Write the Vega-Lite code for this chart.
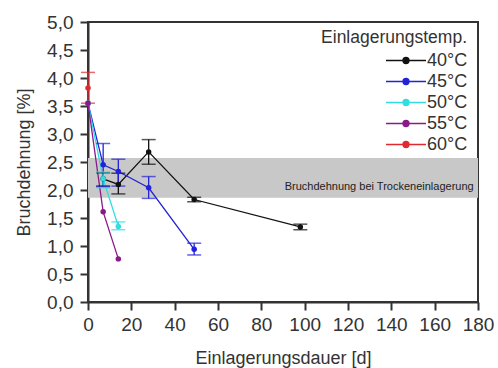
{
  "$schema": "https://vega.github.io/schema/vega-lite/v6.json",
  "width": 390,
  "height": 280,
  "autosize": {"type": "none"},
  "padding": {"left": 88, "top": 22, "right": 20, "bottom": 66},
  "background": "white",
  "config": {
    "font": "Liberation Sans",
    "view": {"stroke": "#333", "strokeWidth": 2},
    "axis": {
      "grid": false,
      "domainColor": "#333",
      "domainWidth": 2,
      "tickColor": "#333",
      "tickWidth": 2,
      "tickSize": 8,
      "labelFontSize": 19,
      "labelColor": "#333",
      "labelOverlap": false,
      "labelFlush": false,
      "titleFontSize": 18,
      "titleFontWeight": "normal",
      "titleColor": "#333"
    }
  },
  "datasets": {
    "band": [{"x1": 0, "x2": 180, "lo": 1.86, "hi": 2.57}],
    "note": [{"d": 178, "v": 2.05, "label": "Bruchdehnung bei Trockeneinlagerung"}],
    "pts": [
      {"series": "40°C", "d": 7, "v": 2.2, "lo": 2.07, "hi": 2.31},
      {"series": "40°C", "d": 14, "v": 2.1, "lo": 1.93, "hi": 2.3},
      {"series": "40°C", "d": 28, "v": 2.68, "lo": 2.46, "hi": 2.9},
      {"series": "40°C", "d": 49, "v": 1.83, "lo": 1.79, "hi": 1.87},
      {"series": "40°C", "d": 98, "v": 1.34, "lo": 1.29, "hi": 1.39},
      {"series": "45°C", "d": 0, "v": 3.55, "lo": null, "hi": null},
      {"series": "45°C", "d": 7, "v": 2.45, "lo": 2.06, "hi": 2.83},
      {"series": "45°C", "d": 14, "v": 2.33, "lo": 2.07, "hi": 2.55},
      {"series": "45°C", "d": 28, "v": 2.04, "lo": 1.85, "hi": 2.24},
      {"series": "45°C", "d": 49, "v": 0.94, "lo": 0.84, "hi": 1.05},
      {"series": "50°C", "d": 0, "v": 3.55, "lo": null, "hi": null},
      {"series": "50°C", "d": 7, "v": 2.2, "lo": 2.04, "hi": 2.32},
      {"series": "50°C", "d": 14, "v": 1.35, "lo": 1.29, "hi": 1.43},
      {"series": "55°C", "d": 0, "v": 3.55, "lo": null, "hi": null},
      {"series": "55°C", "d": 7, "v": 1.61, "lo": null, "hi": null},
      {"series": "55°C", "d": 14, "v": 0.77, "lo": null, "hi": null},
      {"series": "60°C", "d": 0, "v": 3.82, "lo": 3.55, "hi": 4.1}
    ]
  },
  "layer": [
    {
      "data": {"name": "band"},
      "mark": {"type": "rect", "color": "#c8c8c8"},
      "encoding": {
        "x": {"field": "x1", "type": "quantitative", "scale": {"domain": [0, 180], "nice": false},
          "axis": {"values": [0, 20, 40, 60, 80, 100, 120, 140, 160, 180], "tickCount": 10, "title": "Einlagerungsdauer [d]", "labelPadding": 5, "titlePadding": 15}},
        "x2": {"field": "x2"},
        "y": {"field": "lo", "type": "quantitative", "scale": {"domain": [0, 5], "nice": false},
          "axis": {"values": [0, 0.5, 1, 1.5, 2, 2.5, 3, 3.5, 4, 4.5, 5], "tickCount": 11, "labelExpr": "replace(format(datum.value, '.1f'), '.', ',')", "title": "Bruchdehnung [%]", "labelPadding": 7, "titlePadding": 13}},
        "y2": {"field": "hi"}
      }
    },
    {
      "data": {"name": "note"},
      "mark": {"type": "text", "align": "right", "baseline": "middle", "fontSize": 11, "color": "#222"},
      "encoding": {
        "x": {"field": "d", "type": "quantitative"},
        "y": {"field": "v", "type": "quantitative"},
        "text": {"field": "label"}
      }
    },
    {
      "data": {"name": "pts"},
      "encoding": {
        "x": {"field": "d", "type": "quantitative"},
        "color": {"field": "series", "type": "nominal",
          "scale": {"domain": ["40°C", "45°C", "50°C", "55°C", "60°C"], "range": ["#111111", "#2222d8", "#30dde0", "#8a1a8a", "#e02a30"]},
          "legend": {
            "title": "Einlagerungstemp.",
            "orient": "none",
            "legendX": 233,
            "legendY": 7,
            "titleAnchor": "end",
            "titleAlign": "right",
            "titleFontSize": 17.5,
            "titleFontWeight": "normal",
            "titleColor": "#333",
            "titleLimit": 300,
            "labelFontSize": 18,
            "labelColor": "#333",
            "symbolType": "M-4,0H4M-0.6,0A0.6,0.6 0 1,1 0.6,0A0.6,0.6 0 1,1 -0.6,0",
            "symbolSize": 100,
            "symbolStrokeWidth": 1.3,
            "rowPadding": 3,
            "labelOffset": 12,
            "encode": {"symbols": {"update": {"fill": {"scale": "color", "field": "value"}, "stroke": {"scale": "color", "field": "value"}}}}
          }
        }
      },
      "layer": [
        {
          "mark": {"type": "line", "strokeWidth": 1.3},
          "encoding": {"y": {"field": "v", "type": "quantitative"}}
        },
        {
          "mark": {"type": "rule", "strokeWidth": 1.3},
          "encoding": {
            "y": {"field": "lo", "type": "quantitative"},
            "y2": {"field": "hi"}
          }
        },
        {
          "mark": {"type": "tick", "orient": "horizontal", "size": 14, "thickness": 1.5},
          "encoding": {"y": {"field": "lo", "type": "quantitative"}}
        },
        {
          "mark": {"type": "tick", "orient": "horizontal", "size": 14, "thickness": 1.5},
          "encoding": {"y": {"field": "hi", "type": "quantitative"}}
        },
        {
          "mark": {"type": "point", "filled": true, "size": 30, "opacity": 1},
          "encoding": {"y": {"field": "v", "type": "quantitative"}}
        }
      ]
    }
  ]
}
